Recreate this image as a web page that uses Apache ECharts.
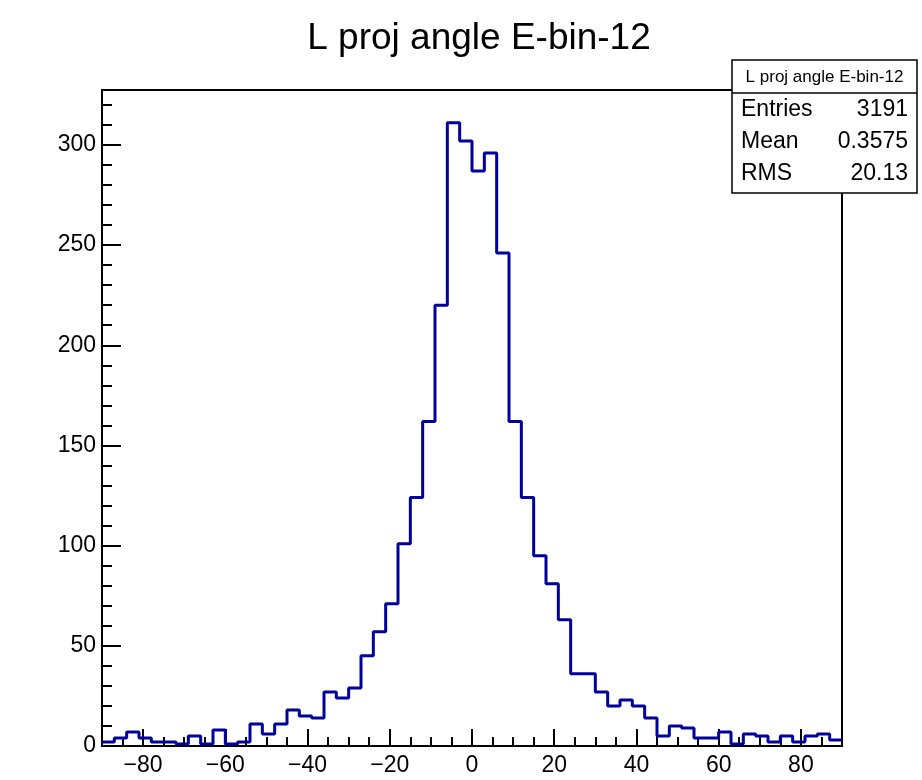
<!DOCTYPE html>
<html>
<head>
<meta charset="utf-8">
<script src="https://cdn.jsdelivr.net/npm/echarts@6/dist/echarts.min.js"></script>
<style>
html,body{margin:0;padding:0;background:#fff;}
#main{width:922px;height:780px;}
</style>
</head>
<body>
<div id="main"></div>
<script>
// ---- data ----
const chartTitle = 'L proj angle E-bin-12';
const binLow = -90;
const binWidth = 3;
const counts = [2,4,7,4,2,2,1,5,1,8,1,2,11,6,11,18,15,14,27,24,29,45,57,71,101,124,162,220,
                311,302,287,296,246,162,124,95,81,63,36,36,27,20,23,20,14,
                5,10,9,4,4,7,1,6,5,2,5,2,5,6,3];
const xTickLabels = [-80,-60,-40,-20,0,20,40,60,80];
const yTickLabels = [0,50,100,150,200,250,300];
const statLabels = ['Entries','Mean','RMS'];
const statValues = ['3191','0.3575','20.13'];
const xMin = -90, xMax = 90, yMax = 327.4;

// ---- build step outline from bin contents ----
const stepData = counts.map((c, i) => [binLow + i * binWidth, c]);
stepData.push([binLow + counts.length * binWidth, counts[counts.length - 1]]);

const FONT = "'Liberation Sans', Arial, Helvetica, sans-serif";
const fmt = v => String(v).replace('-', '\u2212');

const chart = echarts.init(document.getElementById('main'), null, {renderer: 'canvas'});

const statGraphics = [];
const bx = 732, by = 60, bw = 185, hh = 33, bodyH = 100;
statGraphics.push({type:'rect', shape:{x:bx, y:by, width:bw, height:hh+bodyH},
  style:{fill:'#fff', stroke:'#000', lineWidth:1.5}, z:100});
statGraphics.push({type:'line', shape:{x1:bx, y1:by+hh, x2:bx+bw, y2:by+hh},
  style:{stroke:'#000', lineWidth:1.5}, z:101});
statGraphics.push({type:'text', x:bx+bw/2, y:by+hh/2+1, z:102,
  style:{text:chartTitle, fill:'#000', font:'17px ' + FONT, textAlign:'center', textVerticalAlign:'middle'}});
statLabels.forEach((lab, i) => {
  const cy = by + hh + 17 + i * 32;
  statGraphics.push({type:'text', x:bx+9, y:cy, z:102,
    style:{text:lab, fill:'#000', font:'23px ' + FONT, textAlign:'left', textVerticalAlign:'middle'}});
  statGraphics.push({type:'text', x:bx+bw-9, y:cy, z:102,
    style:{text:statValues[i], fill:'#000', font:'23px ' + FONT, textAlign:'right', textVerticalAlign:'middle'}});
});

chart.setOption({
  animation: false,
  backgroundColor: '#fff',
  title: {
    text: chartTitle,
    left: 474, top: 15, textAlign: 'center',
    textStyle: {fontFamily: FONT, fontSize: 37, fontWeight: 'normal', color: '#000'}
  },
  grid: {left: 102, right: 80, top: 90, bottom: 34, show: true, borderColor: '#000', borderWidth: 2, backgroundColor: 'transparent'},
  xAxis: [
    {
      type: 'value', min: xMin, max: xMax, gridIndex: 0, position: 'bottom',
      axisLine: {show: true, onZero: false, lineStyle: {color: '#000', width: 2}},
      axisTick: {show: true, inside: true, length: 17, customValues: xTickLabels, lineStyle: {color: '#000', width: 2}},
      axisLabel: {show: true, customValues: xTickLabels, formatter: fmt, color: '#000', fontFamily: FONT, fontSize: 23, margin: 8},
      splitLine: {show: false}
    },
    {
      type: 'value', min: xMin, max: xMax, interval: 5, gridIndex: 0, position: 'bottom',
      axisLine: {show: false, onZero: false},
      axisTick: {show: true, inside: true, length: 9, lineStyle: {color: '#000', width: 2}},
      axisLabel: {show: false},
      splitLine: {show: false}
    }
  ],
  yAxis: [
    {
      type: 'value', min: 0, max: yMax, gridIndex: 0, position: 'left',
      axisLine: {show: true, onZero: false, lineStyle: {color: '#000', width: 2}},
      axisTick: {show: true, inside: true, length: 19, customValues: yTickLabels, lineStyle: {color: '#000', width: 2}},
      axisLabel: {show: true, customValues: yTickLabels, color: '#000', fontFamily: FONT, fontSize: 23, margin: 6},
      splitLine: {show: false}
    },
    {
      type: 'value', min: 0, max: yMax, interval: 10, gridIndex: 0, position: 'left',
      axisLine: {show: false, onZero: false},
      axisTick: {show: true, inside: true, length: 10, lineStyle: {color: '#000', width: 2}},
      axisLabel: {show: false},
      splitLine: {show: false}
    }
  ],
  series: [{
    type: 'line',
    xAxisIndex: 0, yAxisIndex: 0,
    data: stepData,
    step: 'end',
    showSymbol: false,
    symbol: 'none',
    clip: true,
    lineStyle: {color: '#00009a', width: 3},
    z: 5
  }],
  graphic: statGraphics
});
</script>
</body>
</html>
